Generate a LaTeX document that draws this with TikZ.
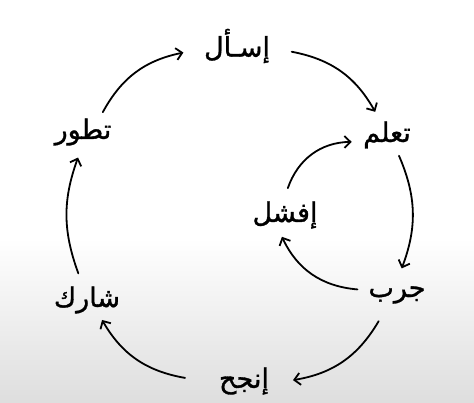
\documentclass[tikz,border=0pt]{standalone}
\usepackage{fontspec}
\newfontfamily\arabicfont[Script=Arabic, FakeBold=1.2]{DejaVu Sans}
\TeXXeTstate=1
\usetikzlibrary{arrows.meta}

\begin{document}
\begin{tikzpicture}[
        x=1pt, y=1pt,
        every node/.style={font=\arabicfont\fontsize{27}{30}\selectfont},
        paso/.style={inner sep=0pt},
        flecha/.style={-{Straight Barb[length=6pt, width=12pt]}, line width=1.8pt, line cap=round}
    ]

    % Fondo
    \fill[white] (0,0) rectangle (474,403);
    \shade[top color=white, bottom color=black!13] (0,0) rectangle (474,165);

    % Pasos del ciclo
    \node[paso] (asal) at (237,357) {\beginR إسـأل\endR};
    \node[paso] (taallam) at (387,268) {\beginR تعلم\endR};
    \node[paso] (jarrib) at (397,108) {\beginR جرب\endR};
    \node[paso] (injah) at (244,22) {\beginR إنجح\endR};
    \node[paso] (sharik) at (87,103) {\beginR شارك\endR};
    \node[paso] (tatawwar) at (83,271) {\beginR تطور\endR};

    % Bucle interior
    \node[paso] (ifshal) at (285,188) {\beginR إفشل\endR};

    % Aristas
    \draw[flecha] ([shift={(-6:55)}]asal.center) to[bend left=25] ([shift={(117:26)}]taallam.center);
    \draw[flecha] ([shift={(-60:24)}]taallam.center) to[bend left=22] ([shift={(80:27)}]jarrib.center);
    \draw[flecha] ([shift={(-125:32)}]jarrib.center) to[bend left=25] ([shift={(1:49)}]injah.center);
    \draw[flecha] ([shift={(177:59)}]injah.center) to[bend left=25] ([shift={(-53:25)}]sharik.center);
    \draw[flecha] ([shift={(108:28)}]sharik.center) to[bend left=20] ([shift={(-101:26)}]tatawwar.center);
    \draw[flecha] ([shift={(45:28)}]tatawwar.center) to[bend left=25] ([shift={(187:54)}]asal.center);
    \draw[flecha] ([shift={(172:40)}]jarrib.center) to[bend left=30] ([shift={(-98:22)}]ifshal.center);
    \draw[flecha] ([shift={(84:27)}]ifshal.center) to[bend left=35] ([shift={(191:36)}]taallam.center);
\end{tikzpicture}
\end{document}
